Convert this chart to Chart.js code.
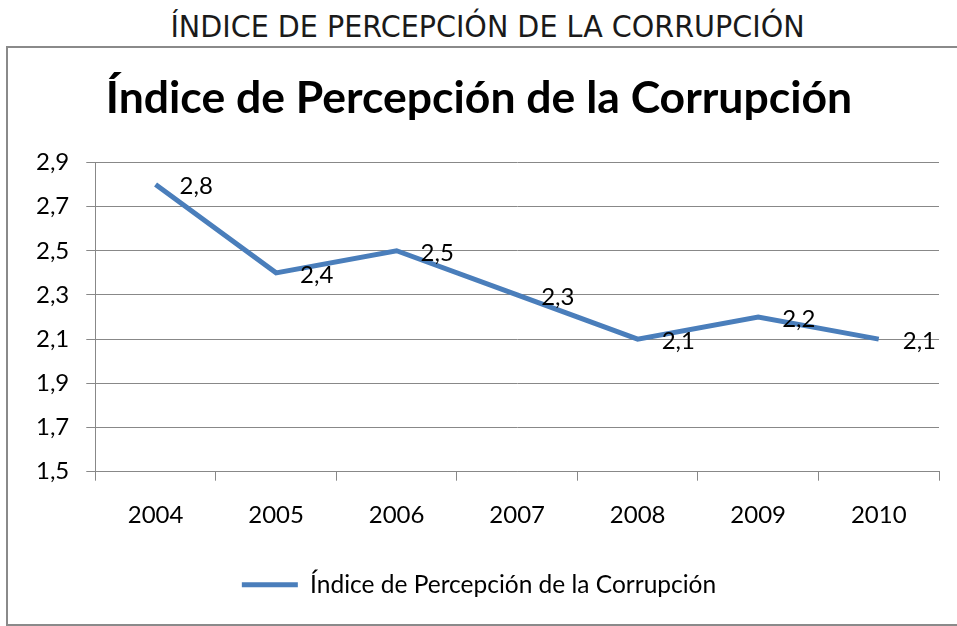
<!DOCTYPE html>
<html>
<head>
<meta charset="utf-8">
<script src="https://cdn.jsdelivr.net/npm/chart.js@4"></script>
<style>
  html, body { margin: 0; padding: 0; background: #fff; overflow: hidden; }
  body { width: 957px; height: 626px; position: relative; }
  .page-title {
    position: absolute; left: 9px; top: 9px; width: 957px; text-align: center;
    font-family: "Liberation Sans Narrow", "DejaVu Sans Condensed", sans-serif;
    font-size: 30px; line-height: 36px; color: #1a1a1a;
    transform: scaleX(1.06); transform-origin: 478px 0;
  }
  .chart-box {
    position: absolute; left: 6px; top: 46px; width: 960px; height: 576px;
    border: 2px solid #8a8a8a;
  }
  .chart-js-wrapper { position: absolute; left: 0; top: 0; width: 949px; height: 576px; }
</style>
</head>
<body>
<div class="page-title">ÍNDICE DE PERCEPCIÓN DE LA CORRUPCIÓN</div>
<div class="chart-box"><div class="chart-js-wrapper"></div></div>
<script>
const years = ["2004", "2005", "2006", "2007", "2008", "2009", "2010"];
const indexValues = [2.8, 2.4, 2.5, 2.3, 2.1, 2.2, 2.1];
const yTicks = [1.5, 1.7, 1.9, 2.1, 2.3, 2.5, 2.7, 2.9];
const seriesName = "Índice de Percepción de la Corrupción";

const lineBlue = "#4a7ebb";
const gridGray = "#888888";
const fmt = (v) => v.toFixed(1).replace(".", ",");

// labels to the right of each point, like the excel "right" position
const pointLabels = {
  id: "pointLabels",
  afterDatasetsDraw(chart) {
    const ctx = chart.ctx;
    const meta = chart.getDatasetMeta(0);
    ctx.save();
    ctx.font = "24px Lato";
    ctx.fillStyle = "#000";
    ctx.textAlign = "left";
    ctx.textBaseline = "middle";
    meta.data.forEach((pt, i) => {
      ctx.fillText(fmt(indexValues[i]), pt.x + 24, pt.y + 2);
    });
    ctx.restore();
  },
};

let chartWrap = document.querySelector(".chart-js-wrapper");
chartWrap.innerHTML = `<canvas id="chart-line"></canvas>`;
var ctx1 = document.getElementById("chart-line").getContext("2d");
new Chart(ctx1, {
  type: "line",
  data: {
    labels: years,
    datasets: [
      {
        label: seriesName,
        data: indexValues,
        borderColor: lineBlue,
        backgroundColor: lineBlue,
        borderWidth: 5,
        pointRadius: 0,
        tension: 0,
        fill: false,
      },
    ],
  },
  options: {
    responsive: true,
    maintainAspectRatio: false,
    animation: false,
    layout: { padding: { left: 11, right: 18, top: 14, bottom: 17 } },
    plugins: {
      title: {
        display: true,
        text: seriesName,
        color: "#000",
        font: { family: "Lato", size: 44.5, weight: "bold" },
        padding: { top: 10, bottom: 37 },
      },
      legend: {
        position: "bottom",
        labels: {
          color: "#000",
          font: { family: "Lato", size: 24.5 },
          boxWidth: 56,
          boxHeight: 5,
          padding: 20,
          generateLabels(chart) {
            return Chart.defaults.plugins.legend.labels.generateLabels(chart).map((l) => {
              l.lineWidth = 0;
              return l;
            });
          },
        },
      },
      tooltip: { enabled: false },
    },
    scales: {
      x: {
        offset: true,
        afterFit(axis) {
          axis.height += 3;
        },
        grid: {
          offset: true,
          drawOnChartArea: false,
          drawTicks: true,
          tickLength: 9,
          color: gridGray,
        },
        border: { color: gridGray, width: 1 },
        ticks: {
          color: "#000",
          padding: 20,
          font: { family: "Lato", size: 24 },
        },
      },
      y: {
        min: yTicks[0],
        max: yTicks[yTicks.length - 1],
        afterBuildTicks(axis) {
          axis.ticks = yTicks.map((v) => ({ value: v }));
        },
        grid: {
          color: gridGray,
          drawTicks: true,
          tickLength: 9,
        },
        border: { color: gridGray, width: 1 },
        ticks: {
          color: "#000",
          padding: 17,
          font: { family: "Lato", size: 24 },
          callback: (v) => fmt(v),
        },
      },
    },
  },
  plugins: [pointLabels],
});
</script>
</body>
</html>
